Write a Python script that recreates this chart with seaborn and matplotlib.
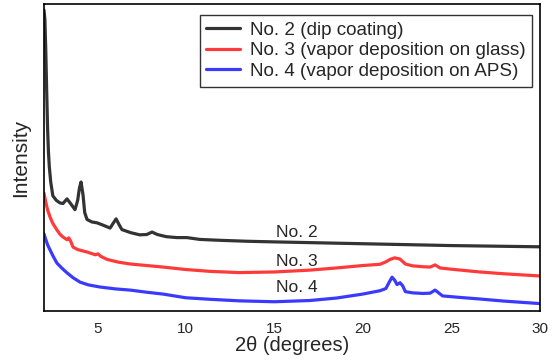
import matplotlib
matplotlib.use("Agg")
import matplotlib.pyplot as plt
import seaborn as sns
import pandas as pd

sns.set_theme(style="white")
plt.rcParams['font.family'] = ['Liberation Sans', 'DejaVu Sans']

# ---- data ----
x2 = [2.0, 2.05, 2.1, 2.15, 2.2, 2.25, 2.3, 2.38, 2.5, 2.7, 2.9, 3.07, 3.3, 3.5, 3.75, 3.9, 4.0, 4.09,
      4.2, 4.3, 4.43, 4.7, 5.0, 5.4, 5.73, 5.9, 6.07, 6.25, 6.4, 6.9, 7.4, 7.8, 8.1, 8.4, 8.9, 9.5,
      10.07, 10.8, 12, 13.5, 15, 17.5, 20, 22.5, 25, 27.5, 30]
y2 = [98, 95, 85, 72, 60, 52, 47, 42, 37.5, 36, 35.2, 35, 36.5, 35, 33, 36, 40, 42,
      38, 32, 29.8, 29, 28.7, 27.8, 27, 28.5, 30, 28, 26.5, 25.5, 24.8, 24.9, 25.7, 24.9, 24.2, 23.9,
      23.9, 23.3, 23, 22.7, 22.5, 22.2, 21.9, 21.6, 21.3, 21.1, 20.9]

x3 = [2.0, 2.1, 2.2, 2.34, 2.5, 2.73, 2.9, 3.07, 3.3, 3.4, 3.5, 3.64, 3.9, 4.43, 4.9, 5.05, 5.2, 5.56,
      6.2, 6.86, 7.8, 8.72, 10, 11.37, 13, 15, 17, 18.5, 20, 20.97, 21.3, 21.54, 21.8, 22.1, 22.4,
      22.8, 23.4, 23.8, 24.08, 24.36, 25, 26.6, 28, 30]
y3 = [38.4, 35.5, 33, 30.6, 28.5, 26.4, 25, 24.1, 23.2, 23.8, 22.8, 20.8, 20, 19.2, 18.3, 18.6, 17.8, 16.8,
      15.9, 15.3, 14.8, 14.3, 13.5, 12.9, 12.5, 12.7, 13.3, 14, 14.8, 15.2, 16, 16.8, 17.3, 16.9, 15.3,
      14.7, 14.4, 14.3, 15, 14.0, 13.6, 12.7, 12.1, 11.4]

x4 = [2.0, 2.1, 2.2, 2.34, 2.5, 2.73, 3.0, 3.3, 3.65, 4.03, 4.5, 5.16, 6.0, 6.86, 7.8, 8.72, 10, 11.37,
      13, 15, 17, 18.5, 20, 20.97, 21.3, 21.5, 21.65, 21.8, 21.93, 22.1, 22.25, 22.4, 22.8, 23.4, 23.8,
      24.08, 24.5, 25.5, 26.6, 28, 30]
y4 = [25.1, 23.3, 21.6, 19.9, 18.0, 15.6, 14.0, 12.4, 10.8, 9.4, 8.5, 7.8, 7.2, 6.8, 6.1, 5.5, 4.3, 3.8,
      3.3, 3.0, 3.4, 4.2, 5.5, 6.6, 7.3, 9.5, 11.0, 10.0, 8.6, 9.2, 8.2, 6.3, 5.9, 5.7, 5.8,
      6.8, 4.9, 4.4, 3.9, 3.2, 2.4]

labels = ["No. 2 (dip coating)", "No. 3 (vapor deposition on glass)", "No. 4 (vapor deposition on APS)"]
short = ["No. 2", "No. 3", "No. 4"]
label_pos = [(16.3, 25.6), (16.3, 16.2), (16.3, 7.7)]
colors = ["#333333", "#ff3a3a", "#3a3aff"]
xticks = [5, 10, 15, 20, 25, 30]

df = pd.concat([
    pd.DataFrame({"x": x2, "y": y2, "s": labels[0]}),
    pd.DataFrame({"x": x3, "y": y3, "s": labels[1]}),
    pd.DataFrame({"x": x4, "y": y4, "s": labels[2]}),
])

fig = plt.figure(figsize=(5.52, 3.62), dpi=100)
ax = fig.add_axes([0.0797, 0.141, 0.8985, 0.848])
sns.lineplot(data=df, x="x", y="y", hue="s", palette=colors, sort=False,
             linewidth=2.3, ax=ax, estimator=None)

ax.set_xlim(2, 30)
ax.set_ylim(0, 100)
ax.set_xticks(xticks)
ax.set_yticks([])
ax.tick_params(axis="x", direction="in", length=6, width=1, labelsize=11, pad=8, color="black")
for sp in ax.spines.values():
    sp.set_visible(True)
    sp.set_color("black")
    sp.set_linewidth(1.2)
ax.set_xlabel("2θ (degrees)", fontsize=14.5, labelpad=0)
ax.set_ylabel("Intensity", fontsize=15, labelpad=10)

for t, (px, py) in zip(short, label_pos):
    ax.text(px, py, t, ha="center", va="center", fontsize=12.5)

leg = ax.legend(loc="upper right", bbox_to_anchor=(0.984, 0.964), borderaxespad=0,
                fontsize=13.6, frameon=True, fancybox=False, handlelength=1.8, borderpad=0.35,
                labelspacing=0.18, handletextpad=0.5)
leg.get_frame().set_edgecolor("black")
leg.get_frame().set_linewidth(1.0)
leg.set_title(None)

fig.savefig("out.png", dpi=100)
